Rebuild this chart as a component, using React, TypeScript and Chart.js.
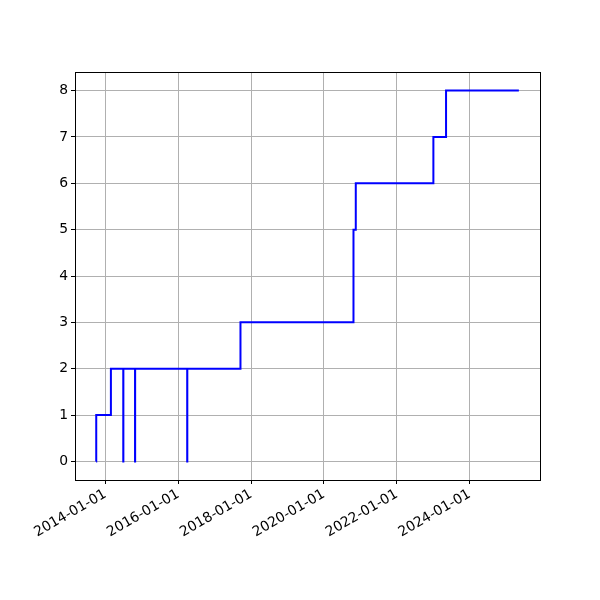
import { useEffect, useRef } from "react";
import { Chart, registerables } from "chart.js";

Chart.register(...registerables);

const dates = [
  "2013-09-30",
  "2013-10-01",
  "2014-02-25",
  "2014-06-29",
  "2014-06-30",
  "2014-10-25",
  "2014-10-26",
  "2016-03-31",
  "2016-04-01",
  "2017-09-16",
  "2020-10-23",
  "2020-11-15",
  "2023-01-02",
  "2023-05-09",
  "2025-05-08",
];
const values = [0, 1, 2, 0, 2, 0, 2, 0, 2, 3, 5, 6, 7, 8, 8];
const xTickLabels = [
  "2014-01-01",
  "2016-01-01",
  "2018-01-01",
  "2020-01-01",
  "2022-01-01",
  "2024-01-01",
];
const yTicks = [0, 1, 2, 3, 4, 5, 6, 7, 8];

const toMs = (s: string) => Date.parse(s + "T00:00:00Z");
const pad2 = (n: number) => (n < 10 ? "0" + n : "" + n);
const fmt = (ms: number) => {
  const d = new Date(ms);
  return d.getUTCFullYear() + "-" + pad2(d.getUTCMonth() + 1) + "-" + pad2(d.getUTCDate());
};

const frame = {
  id: "frame",
  afterDraw(chart: any) {
    const { ctx, chartArea } = chart;
    ctx.save();
    ctx.strokeStyle = "#000";
    ctx.lineWidth = 1;
    ctx.strokeRect(
      Math.round(chartArea.left) + 0.5,
      Math.round(chartArea.top) + 0.5,
      Math.round(chartArea.right - chartArea.left),
      Math.round(chartArea.bottom - chartArea.top)
    );
    ctx.restore();
  },
};

export default function App() {
  const ref = useRef<HTMLCanvasElement | null>(null);
  useEffect(() => {
    document.body.style.margin = "0";
    const xs = dates.map(toMs);
    const t0 = xs[0];
    const t1 = xs[xs.length - 1];
    const span = t1 - t0;
    const yMin = Math.min(...values);
    const yMax = Math.max(...values);
    const ySpan = yMax - yMin;
    const font = { family: "DejaVu Sans", size: 13.9 };
    const chart = new Chart(ref.current as HTMLCanvasElement, {
      type: "line",
      data: {
        datasets: [
          {
            data: xs.map((x, i) => ({ x, y: values[i] })),
            borderColor: "#0000ff",
            borderWidth: 2,
            pointRadius: 0,
            stepped: "before",
            fill: false,
          },
        ],
      },
      options: {
        animation: false,
        responsive: false,
        layout: { padding: { top: 72, right: 60, left: 0, bottom: 0 } },
        plugins: { legend: { display: false }, tooltip: { enabled: false } },
        scales: {
          x: {
            type: "linear",
            min: t0 - 0.05 * span,
            max: t1 + 0.05 * span,
            afterFit: (s: any) => {
              s.height = 120;
            },
            afterBuildTicks: (s: any) => {
              s.ticks = xTickLabels.map((l) => ({ value: toMs(l) }));
            },
            grid: { color: "#b0b0b0", lineWidth: 1, tickColor: "#000", tickLength: 4 },
            border: { display: true, color: "#000", width: 1 },
            ticks: {
              color: "#000",
              font,
              padding: 2,
              minRotation: 30,
              maxRotation: 30,
              autoSkip: false,
              callback: (v: any) => fmt(Number(v)),
            },
          },
          y: {
            type: "linear",
            min: yMin - 0.05 * ySpan,
            max: yMax + 0.05 * ySpan,
            afterFit: (s: any) => {
              s.width = 75;
            },
            afterBuildTicks: (s: any) => {
              s.ticks = yTicks.map((v) => ({ value: v }));
            },
            grid: { color: "#b0b0b0", lineWidth: 1, tickColor: "#000", tickLength: 4 },
            border: { display: true, color: "#000", width: 1 },
            ticks: {
              color: "#000",
              font,
              padding: 3,
              callback: (v: any) => String(v),
            },
          },
        },
      },
      plugins: [frame],
    });
    return () => chart.destroy();
  }, []);
  return (
    <div style={{ width: 600, height: 600, background: "#fff" }}>
      <canvas ref={ref} width={600} height={600} style={{ width: 600, height: 600 }} />
    </div>
  );
}
